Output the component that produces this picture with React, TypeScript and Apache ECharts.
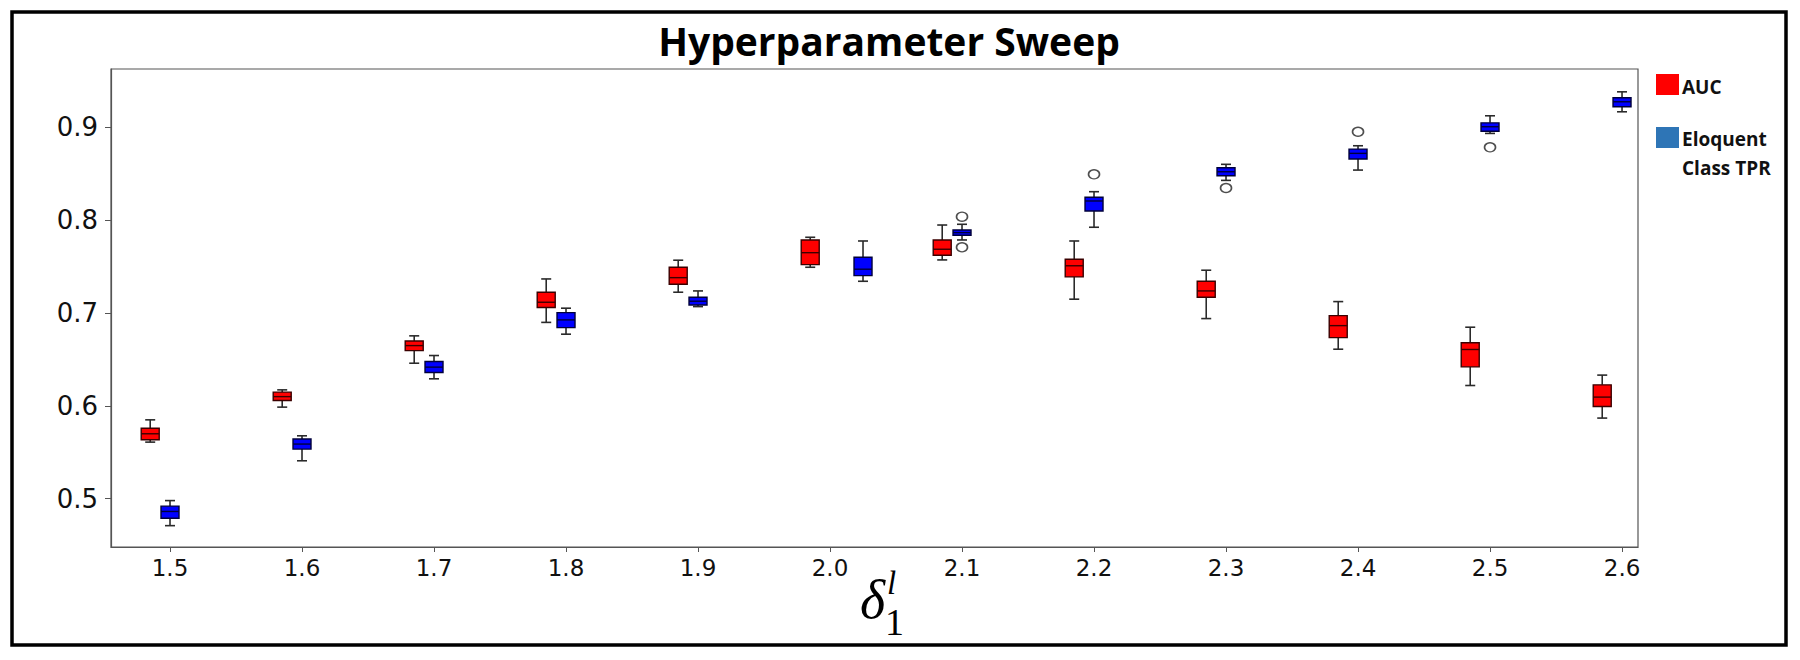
import React, { useEffect, useRef } from 'react';
import * as echarts from 'echarts';

// ---- data ----
const xTickValues = [1.5, 1.6, 1.7, 1.8, 1.9, 2.0, 2.1, 2.2, 2.3, 2.4, 2.5, 2.6];
const yTickValues = [0.5, 0.6, 0.7, 0.8, 0.9];

// AUC boxes: position, [whisker low, Q1, median, Q3, whisker high]
const aucX = [1.485, 1.585, 1.685, 1.785, 1.885, 1.985, 2.085, 2.185, 2.285, 2.385, 2.485, 2.585];
const aucStats = [
  [0.561, 0.5635, 0.570, 0.576, 0.585],
  [0.5987, 0.6058, 0.610, 0.6149, 0.6173],
  [0.646, 0.6596, 0.665, 0.670, 0.6755],
  [0.690, 0.706, 0.7117, 0.7225, 0.7368],
  [0.7225, 0.7311, 0.7382, 0.7494, 0.757],
  [0.7494, 0.7522, 0.7651, 0.7788, 0.7817],
  [0.7573, 0.7623, 0.7688, 0.7788, 0.7949],
  [0.715, 0.739, 0.751, 0.758, 0.7777],
  [0.6941, 0.7171, 0.7239, 0.7343, 0.7462],
  [0.6611, 0.6736, 0.6865, 0.6973, 0.7124],
  [0.622, 0.6421, 0.6608, 0.668, 0.6848],
  [0.5869, 0.5994, 0.6095, 0.6227, 0.6332],
];

// Eloquent Class TPR boxes
const tprX = [1.5, 1.6, 1.7, 1.8, 1.9, 2.025, 2.1, 2.2, 2.3, 2.4, 2.5, 2.6];
const tprStats = [
  [0.471, 0.479, 0.4863, 0.492, 0.498],
  [0.5409, 0.5535, 0.5589, 0.5643, 0.5678],
  [0.6292, 0.636, 0.6418, 0.6478, 0.6543],
  [0.6773, 0.6844, 0.6927, 0.7005, 0.7053],
  [0.707, 0.7088, 0.7128, 0.7171, 0.7239],
  [0.7343, 0.7404, 0.7473, 0.7602, 0.7777],
  [0.7788, 0.7839, 0.7867, 0.7896, 0.7957],
  [0.7925, 0.81, 0.8208, 0.8248, 0.8308],
  [0.843, 0.848, 0.8523, 0.8566, 0.8603],
  [0.8541, 0.866, 0.8721, 0.8767, 0.8803],
  [0.8936, 0.896, 0.9008, 0.905, 0.9126],
  [0.9169, 0.9223, 0.9277, 0.932, 0.9384],
];
const tprOutliers = [
  [2.1, 0.8039],
  [2.1, 0.7709],
  [2.2, 0.8495],
  [2.3, 0.8348],
  [2.4, 0.8954],
  [2.5, 0.8786],
];

const seriesNames = ['AUC', 'Eloquent Class TPR'];
const titleText = 'Hyperparameter Sweep';

function boxRenderer(fill: string, edge: string) {
  return (params: any, api: any) => {
    const x = api.value(0);
    const low = api.coord([x, api.value(1)]);
    const q1 = api.coord([x, api.value(2)]);
    const med = api.coord([x, api.value(3)]);
    const q3 = api.coord([x, api.value(4)]);
    const high = api.coord([x, api.value(5)]);
    const cx = low[0];
    const hw = 9;
    const cw = 5;
    const ws = { stroke: '#2a2a2a', lineWidth: 1.6 };
    return {
      type: 'group',
      children: [
        { type: 'line', shape: { x1: cx, y1: high[1], x2: cx, y2: q3[1] }, style: ws },
        { type: 'line', shape: { x1: cx, y1: q1[1], x2: cx, y2: low[1] }, style: ws },
        { type: 'line', shape: { x1: cx - cw, y1: high[1], x2: cx + cw, y2: high[1] }, style: ws },
        { type: 'line', shape: { x1: cx - cw, y1: low[1], x2: cx + cw, y2: low[1] }, style: ws },
        {
          type: 'rect',
          shape: { x: cx - hw, y: q3[1], width: hw * 2, height: Math.max(q1[1] - q3[1], 1) },
          style: { fill, stroke: edge, lineWidth: 1.4 },
        },
        { type: 'line', shape: { x1: cx - hw, y1: med[1], x2: cx + hw, y2: med[1] }, style: { stroke: edge, lineWidth: 1.4 } },
      ],
    };
  };
}

export default function App() {
  const ref = useRef<HTMLDivElement>(null);
  useEffect(() => {
    if (!ref.current) return;
    const chart = echarts.init(ref.current, null, { renderer: 'svg' });
    const labelFont = 'DejaVu Sans';
    const legendText = { fontFamily: 'Open Sans', fontWeight: 700, fontSize: 19, fill: '#111', verticalAlign: 'middle' };
    chart.setOption({
      animation: false,
      backgroundColor: '#fff',
      title: {
        text: titleText,
        left: 884,
        textAlign: 'center',
        top: 16,
        textStyle: { fontFamily: 'Open Sans', fontWeight: 700, fontSize: 39, color: '#000' },
      },
      grid: {
        left: 111,
        top: 69,
        width: 1527,
        height: 478,
        show: true,
        borderColor: '#555',
        borderWidth: 1.2,
        containLabel: false,
      },
      xAxis: {
        type: 'value',
        min: 1.4553,
        max: 2.6121,
        splitLine: { show: false },
        axisLine: { show: true, lineStyle: { color: '#555', width: 1.2 } },
        axisTick: { show: true, length: 5, lineStyle: { color: '#555' }, customValues: xTickValues },
        axisLabel: {
          customValues: xTickValues,
          formatter: (v: number) => v.toFixed(1),
          fontFamily: labelFont,
          fontSize: 23,
          color: '#111',
          margin: 9,
        },
      },
      yAxis: {
        type: 'value',
        min: 0.448,
        max: 0.963,
        splitLine: { show: false },
        axisLine: { show: true, lineStyle: { color: '#555', width: 1.2 } },
        axisTick: { show: true, length: 6, lineStyle: { color: '#555' }, customValues: yTickValues },
        axisLabel: {
          customValues: yTickValues,
          formatter: (v: number) => v.toFixed(1),
          fontFamily: labelFont,
          fontSize: 26,
          color: '#111',
          margin: 13,
        },
      },
      series: [
        {
          name: seriesNames[0],
          type: 'custom',
          renderItem: boxRenderer('#ff0000', '#3a0000'),
          encode: { x: 0, y: [1, 2, 3, 4, 5] },
          itemStyle: { color: '#ff0000' },
          data: aucX.map((x, i) => [x, ...aucStats[i]]),
          z: 3,
        },
        {
          name: seriesNames[1],
          type: 'custom',
          renderItem: boxRenderer('#0000ff', '#00003a'),
          encode: { x: 0, y: [1, 2, 3, 4, 5] },
          itemStyle: { color: '#0000ff' },
          data: tprX.map((x, i) => [x, ...tprStats[i]]),
          z: 3,
        },
        {
          name: seriesNames[1] + ' outliers',
          type: 'scatter',
          symbol: 'circle',
          symbolSize: [11, 9],
          itemStyle: { color: '#fff', borderColor: '#222', borderWidth: 1.5 },
          data: tprOutliers,
          z: 4,
        },
      ],
      graphic: [
        {
          type: 'rect',
          shape: { x: 12, y: 12, width: 1774, height: 633 },
          style: { fill: 'none', stroke: '#000', lineWidth: 3.5 },
          silent: true,
        },
        { type: 'rect', shape: { x: 1656, y: 74, width: 23, height: 21 }, style: { fill: '#ff0000' } },
        { type: 'text', x: 1682, y: 87, style: { ...legendText, text: 'AUC' } },
        { type: 'rect', shape: { x: 1656, y: 127, width: 23, height: 21 }, style: { fill: '#2e75b6' } },
        { type: 'text', x: 1682, y: 139, style: { ...legendText, text: 'Eloquent' } },
        { type: 'text', x: 1682, y: 168, style: { ...legendText, text: 'Class TPR' } },
        {
          type: 'text',
          x: 860,
          y: 600,
          style: { text: 'δ', fontFamily: 'Liberation Serif', fontStyle: 'italic', fontSize: 54, fill: '#000', verticalAlign: 'middle' },
        },
        {
          type: 'text',
          x: 887,
          y: 583,
          style: { text: 'l', fontFamily: 'Liberation Serif', fontStyle: 'italic', fontSize: 33, fill: '#000', verticalAlign: 'middle' },
        },
        {
          type: 'text',
          x: 885,
          y: 622,
          style: { text: '1', fontFamily: 'Liberation Serif', fontSize: 38, fill: '#000', verticalAlign: 'middle' },
        },
      ],
    });
    return () => chart.dispose();
  }, []);
  return <div ref={ref} style={{ position: 'fixed', left: 0, top: 0, width: 1800, height: 660 }} />;
}
